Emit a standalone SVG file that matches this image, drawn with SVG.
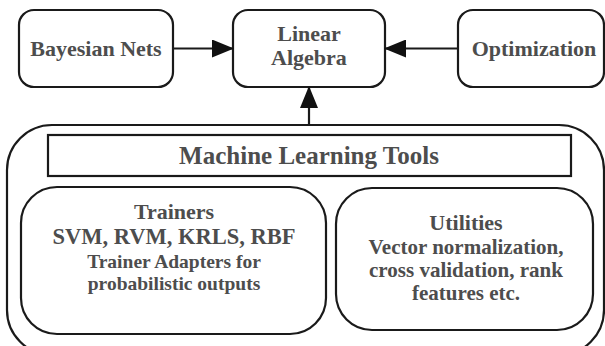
<svg xmlns="http://www.w3.org/2000/svg" width="605" height="346" viewBox="0 0 605 346">
<defs>
<style>
.box{fill:#fff;stroke:#1a1a1a;stroke-width:2.2}
.t{font-family:"Liberation Serif","Times New Roman",serif;font-weight:bold;fill:#4d4d4d;text-anchor:middle}
.conn{stroke:#1a1a1a;stroke-width:2.2;fill:none}
</style>
<marker id="ah" markerUnits="userSpaceOnUse" markerWidth="22" markerHeight="18" refX="22" refY="9" orient="auto">
<path d="M0,0 L22,9 L0,18 z" fill="#111"/>
</marker>
</defs>
<rect width="605" height="346" fill="#fff"/>
<g id="ml-tools">
<rect class="box" x="7" y="125" width="597" height="230" rx="45" ry="45"/>
</g>
<g id="ml-title">
<rect class="box" x="48" y="135" width="523" height="41"/>
<text class="t" x="309" y="164" font-size="25">Machine Learning Tools</text>
</g>
<g id="trainers">
<rect class="box" x="21" y="187" width="305" height="147" rx="36" ry="36"/>
<text class="t" x="174" y="219" font-size="22">Trainers</text>
<text class="t" x="174" y="244" font-size="22.5">SVM, RVM, KRLS, RBF</text>
<text class="t" x="174" y="268" font-size="19.5">Trainer Adapters for</text>
<text class="t" x="174" y="290" font-size="19.5">probabilistic outputs</text>
</g>
<g id="utilities">
<rect class="box" x="336" y="188" width="257" height="142" rx="36" ry="36"/>
<text class="t" x="466" y="230" font-size="22">Utilities</text>
<text class="t" x="466" y="254" font-size="21">Vector normalization,</text>
<text class="t" x="466" y="277" font-size="21">cross validation, rank</text>
<text class="t" x="466" y="300" font-size="21">features etc.</text>
</g>
<g id="bayesian">
<rect class="box" x="19" y="10" width="154" height="77" rx="15" ry="15"/>
<text class="t" x="96" y="56" font-size="22">Bayesian Nets</text>
</g>
<g id="linear-algebra">
<rect class="box" x="233" y="10" width="152" height="77" rx="15" ry="15"/>
<text class="t" x="309" y="41" font-size="22">Linear</text>
<text class="t" x="309" y="65" font-size="22">Algebra</text>
</g>
<g id="optimization">
<rect class="box" x="458" y="10" width="146" height="77" rx="15" ry="15"/>
<text class="t" x="534" y="56" font-size="22">Optimization</text>
</g>
<g id="connectors">
<line class="conn" x1="173" y1="48.5" x2="234" y2="48.5" marker-end="url(#ah)"/>
<line class="conn" x1="458" y1="48.5" x2="384" y2="48.5" marker-end="url(#ah)"/>
<line class="conn" x1="309" y1="125" x2="309" y2="86" marker-end="url(#ah)"/>
</g>
</svg>
